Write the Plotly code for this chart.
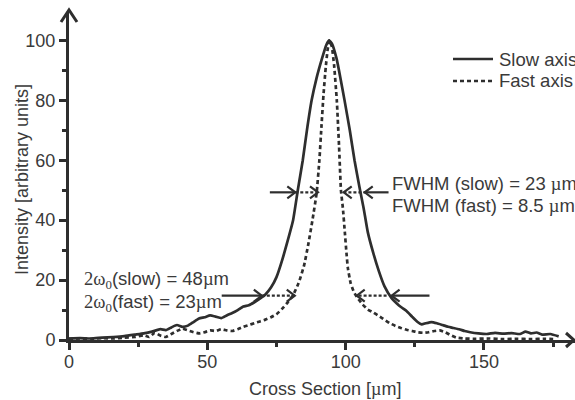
import plotly.graph_objects as go

# Measured beam profiles (cross section in µm, intensity in arbitrary units)
slow_x = [0, 4, 8, 12, 16, 20, 24, 27, 30, 33, 35, 37, 39, 41, 43, 45, 47, 49, 51, 53,
          55, 57, 59, 61, 63, 65, 67, 69, 71, 73, 75, 77, 79, 81, 82.7, 84.5, 86, 87.7,
          89.5, 91.3, 93, 94, 95, 96.7, 98, 99.6, 101.5, 103.2, 105, 106.5, 108, 110,
          112, 114, 116.6, 118.5, 120, 122, 124, 126, 127.5, 129, 131, 133, 135, 137,
          139, 141, 143, 145, 148, 151, 154, 157, 160, 163, 165, 167, 169, 171, 174, 177]
slow_y = [0.5, 0.6, 0.5, 0.8, 1.0, 1.3, 1.8, 2.2, 2.8, 3.6, 3.3, 4.2, 5.0, 4.4, 4.8, 6.0,
          7.2, 7.6, 8.2, 7.8, 7.3, 8.2, 9.0, 10.0, 11.2, 11.6, 12.6, 13.8, 15.2, 17.5, 21.0,
          26.5, 33.0, 40.0, 50.0, 60.0, 70.0, 80.0, 87.5, 93.5, 98.5, 100.0, 99.0, 94.0,
          88.0, 80.0, 70.0, 60.0, 51.0, 44.0, 36.0, 29.0, 23.0, 18.0, 14.0, 12.2, 11.0, 9.7,
          7.8, 6.0, 5.2, 5.6, 6.0, 5.6, 5.0, 4.4, 4.0, 3.6, 3.0, 2.6, 2.2, 2.0, 2.4, 2.1,
          2.3, 2.0, 2.8, 2.2, 2.5, 1.8, 2.0, 1.2]

fast_x = [0, 4, 8, 12, 16, 20, 24, 27, 29, 31, 33, 35, 37, 39, 41, 43, 45, 47, 49, 51,
          53, 55, 57, 59, 61, 63, 65, 67, 69, 71, 73, 75, 77, 79, 81, 83, 85, 86.5, 88,
          89.5, 90.5, 91.3, 92, 92.8, 93.5, 94.2, 95, 95.8, 96.8, 97.6, 98.3, 99, 99.7,
          100.3, 100.8, 101.8, 103, 104.3, 106, 108, 110, 112, 114, 116, 118, 120, 122,
          124, 126, 128, 130, 132, 134, 136, 138, 140, 143, 147, 152, 157, 162, 167, 172, 176]
fast_y = [0.4, 0.5, 0.4, 0.6, 0.5, 0.8, 1.0, 1.6, 1.0, 2.4, 1.5, 1.0, 2.0, 3.0, 3.8, 3.2,
          2.6, 2.2, 2.6, 3.2, 3.0, 3.6, 3.2, 3.0, 3.6, 4.4, 5.0, 5.6, 6.2, 6.8, 7.6, 8.6,
          10.4, 12.5, 15.0, 19.0, 25.0, 32.0, 40.0, 49.0, 60.0, 72.0, 82.0, 91.0, 97.0,
          100.0, 98.0, 92.0, 80.0, 65.0, 50.0, 44.0, 36.0, 29.0, 24.0, 19.0, 16.0, 14.0,
          12.0, 10.2, 9.2, 8.0, 6.8, 5.6, 4.7, 4.0, 3.4, 3.0, 2.6, 2.4, 2.6, 3.0, 3.2, 2.6,
          1.6, 0.8, 0.5, 0.4, 0.5, 0.3, 0.4, 0.3, 0.4, 0.3]

x_ticks = [0, 50, 100, 150]
x_minor = [25, 75, 125, 175]
y_ticks = [0, 20, 40, 60, 80, 100]
y_minor = [10, 30, 50, 70, 90]

series_names = ["Slow axis", "Fast axis"]

# Width markers: (tail, tip, level, series) -- FWHM and 1/e^2 diameter
fwhm_level = 49.3
waist_level = 14.8
width_arrows = [
    (72.6, 81.8, fwhm_level, "slow"),
    (81.8, 90.0, fwhm_level, "fast"),
    (107.5, 99.3, fwhm_level, "fast"),
    (115.5, 106.9, fwhm_level, "slow"),
    (55.2, 69.7, waist_level, "slow"),
    (69.7, 81.6, waist_level, "fast"),
    (114.8, 104.0, waist_level, "fast"),
    (130.3, 116.6, waist_level, "slow"),
]

# ---- page geometry ----
W, H = 575, 400
ML, MR, MT, MB = 69, 0, 12, 60
PW, PH = W - ML - MR, H - MT - MB
X_MAX = 182.9
Y_MAX = 109.5
XS = PW / X_MAX   # px per µm
YS = PH / Y_MAX   # px per intensity unit

INK = "#2e2e2e"
TXT = "#3a3a3a"
FONT = "Liberation Sans, Arial, sans-serif"
SERIF = "Liberation Serif"
DOTS = "4px,3px"
FS = 18.5


def px(xp):
    return (xp - ML) / PW


def py(yp):
    return (H - MB - yp) / PH


fig = go.Figure()
fig.add_trace(go.Scatter(x=slow_x, y=slow_y, mode="lines", name=series_names[0],
                         line=dict(color=INK, width=2.7, shape="spline", smoothing=0.4),
                         showlegend=False))
fig.add_trace(go.Scatter(x=fast_x, y=fast_y, mode="lines", name=series_names[1],
                         line=dict(color=INK, width=2.7, dash=DOTS, shape="spline",
                                   smoothing=0.4),
                         showlegend=False))

shapes = []
hx, hy = 8 / XS, 6 / YS
for tail, tip, lvl, kind in width_arrows:
    d = 1 if tip > tail else -1
    shapes.append(dict(type="line", xref="x", yref="y", x0=tail, x1=tip, y0=lvl, y1=lvl,
                       line=dict(color=INK, width=2.2,
                                 dash="solid" if kind == "slow" else "3px,2px")))
    shapes.append(dict(type="path", xref="x", yref="y",
                       path=f"M {tip - d * hx},{lvl + hy} L {tip},{lvl} L {tip - d * hx},{lvl - hy}",
                       line=dict(color=INK, width=2.2)))

# axis arrowheads
shapes.append(dict(type="path", xref="paper", yref="paper",
                   path=f"M {px(61)},{py(22)} L {px(69)},{py(10)} L {px(77)},{py(22)}",
                   line=dict(color=INK, width=3)))
shapes.append(dict(type="path", xref="paper", yref="paper",
                   path=f"M {px(566)},{py(333)} L {px(574)},{py(340)} L {px(566)},{py(347)}",
                   line=dict(color=INK, width=3)))

# legend samples
shapes.append(dict(type="line", xref="paper", yref="paper", x0=px(453), x1=px(493),
                   y0=py(59), y1=py(59), line=dict(color=INK, width=2.7)))
shapes.append(dict(type="line", xref="paper", yref="paper", x0=px(453), x1=px(495),
                   y0=py(81), y1=py(81), line=dict(color=INK, width=2.7, dash=DOTS)))

mu = f"<span style='font-family:{SERIF}'>µ</span>"
w0 = f"<span style='font-family:{SERIF}'>2ω<sub>0</sub></span>"


def label(text, xp, yp, anchor="left", size=FS):
    return dict(text=text, xref="paper", yref="paper", x=px(xp), y=py(yp),
                xanchor=anchor, yanchor="middle", showarrow=False,
                font=dict(family=FONT, size=size, color=TXT))


annotations = [
    label(series_names[0], 497, 59),
    label(series_names[1], 497, 81),
    label(f"FWHM (slow) = 23 {mu}m", 390, 183),
    label(f"FWHM (fast) = 8.5 {mu}m", 390, 205),
    label(f"{w0}(slow) = 48{mu}m", 82, 280),
    label(f"{w0}(fast) = 23{mu}m", 82, 303),
    label(f"Cross Section [{mu}m]", 325, 389, anchor="center", size=18),
    dict(text="Intensity [arbitrary units]", xref="paper", yref="paper",
         x=px(22), y=py(180), xanchor="center", yanchor="middle", textangle=-90,
         showarrow=False, font=dict(family=FONT, size=18, color=TXT)),
]

axis_common = dict(showgrid=False, zeroline=False, showline=True, linewidth=3,
                   linecolor=INK, ticks="outside", ticklen=7, tickwidth=2.5,
                   tickcolor=INK, tickfont=dict(family=FONT, size=18, color=TXT))

fig.update_layout(
    width=W, height=H,
    margin=dict(l=ML, r=MR, t=MT, b=MB),
    paper_bgcolor="white", plot_bgcolor="white",
    xaxis=dict(range=[0, X_MAX], tickvals=x_ticks, ticklabelstandoff=-4,
               minor=dict(tickvals=x_minor, ticks="outside", ticklen=4,
                          tickwidth=2.5, tickcolor=INK),
               **axis_common),
    yaxis=dict(range=[0, Y_MAX], tickvals=y_ticks,
               minor=dict(tickvals=y_minor, ticks="outside", ticklen=4,
                          tickwidth=2.5, tickcolor=INK),
               **axis_common),
    shapes=shapes,
    annotations=annotations,
    showlegend=False,
)

fig.write_html("out.html")
